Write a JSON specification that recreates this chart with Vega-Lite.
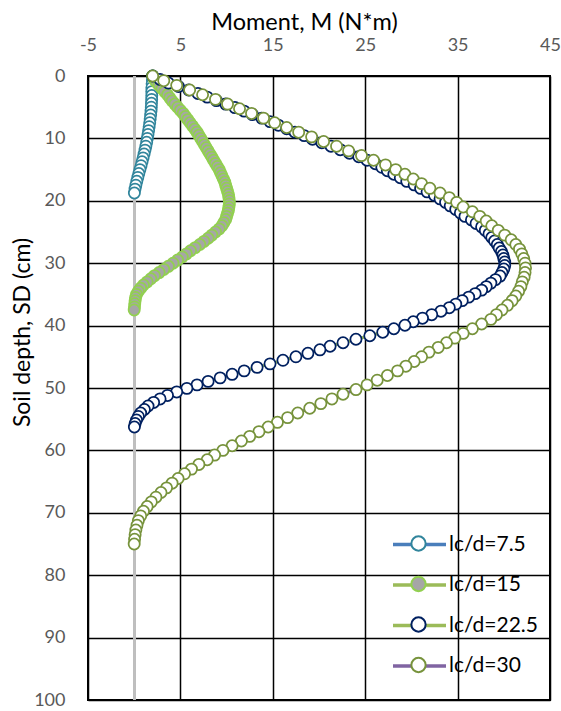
{
"$schema": "https://vega.github.io/schema/vega-lite/v6.json",
"width": 462, "height": 624,
"autosize": {"type": "none"},
"padding": {"left": 88, "top": 76, "right": 11, "bottom": 11},
"background": "white",
"config": {"view": {"stroke": "#000", "strokeWidth": 2}, "font": "Lato"},
"data": {"values": [
{"series":"lc/d=7.5","depth":0,"moment":2.0},{"series":"lc/d=7.5","depth":0.625,"moment":1.97},{"series":"lc/d=7.5","depth":1.25,"moment":1.94},{"series":"lc/d=7.5","depth":1.875,"moment":1.91},{"series":"lc/d=7.5","depth":2.5,"moment":1.9},{"series":"lc/d=7.5","depth":3.125,"moment":1.9},{"series":"lc/d=7.5","depth":3.75,"moment":1.89},{"series":"lc/d=7.5","depth":4.375,"moment":1.87},{"series":"lc/d=7.5","depth":5,"moment":1.85},{"series":"lc/d=7.5","depth":5.625,"moment":1.82},{"series":"lc/d=7.5","depth":6.25,"moment":1.78},{"series":"lc/d=7.5","depth":6.875,"moment":1.73},{"series":"lc/d=7.5","depth":7.5,"moment":1.68},{"series":"lc/d=7.5","depth":8.125,"moment":1.62},{"series":"lc/d=7.5","depth":8.75,"moment":1.56},{"series":"lc/d=7.5","depth":9.375,"moment":1.49},{"series":"lc/d=7.5","depth":10,"moment":1.42},{"series":"lc/d=7.5","depth":10.625,"moment":1.35},{"series":"lc/d=7.5","depth":11.25,"moment":1.26},{"series":"lc/d=7.5","depth":11.875,"moment":1.17},{"series":"lc/d=7.5","depth":12.5,"moment":1.07},{"series":"lc/d=7.5","depth":13.125,"moment":0.96},{"series":"lc/d=7.5","depth":13.75,"moment":0.85},{"series":"lc/d=7.5","depth":14.375,"moment":0.74},{"series":"lc/d=7.5","depth":15,"moment":0.62},{"series":"lc/d=7.5","depth":15.625,"moment":0.5},{"series":"lc/d=7.5","depth":16.25,"moment":0.39},{"series":"lc/d=7.5","depth":16.875,"moment":0.28},{"series":"lc/d=7.5","depth":17.5,"moment":0.18},{"series":"lc/d=7.5","depth":18.125,"moment":0.09},{"series":"lc/d=7.5","depth":18.75,"moment":0.02},
{"series":"lc/d=15","depth":0,"moment":2.0},{"series":"lc/d=15","depth":0.5,"moment":2.15},{"series":"lc/d=15","depth":1,"moment":2.4},{"series":"lc/d=15","depth":1.5,"moment":2.7},{"series":"lc/d=15","depth":2,"moment":3.0},{"series":"lc/d=15","depth":2.5,"moment":3.3},{"series":"lc/d=15","depth":3,"moment":3.6},{"series":"lc/d=15","depth":3.5,"moment":3.85},{"series":"lc/d=15","depth":4,"moment":4.1},{"series":"lc/d=15","depth":4.5,"moment":4.4},{"series":"lc/d=15","depth":5,"moment":4.7},{"series":"lc/d=15","depth":5.5,"moment":5.0},{"series":"lc/d=15","depth":6,"moment":5.3},{"series":"lc/d=15","depth":6.5,"moment":5.55},{"series":"lc/d=15","depth":7,"moment":5.8},{"series":"lc/d=15","depth":7.5,"moment":6.05},{"series":"lc/d=15","depth":8,"moment":6.3},{"series":"lc/d=15","depth":8.5,"moment":6.55},{"series":"lc/d=15","depth":9,"moment":6.8},{"series":"lc/d=15","depth":9.5,"moment":7.0},{"series":"lc/d=15","depth":10,"moment":7.2},{"series":"lc/d=15","depth":10.5,"moment":7.4},{"series":"lc/d=15","depth":11,"moment":7.6},{"series":"lc/d=15","depth":11.5,"moment":7.8},{"series":"lc/d=15","depth":12,"moment":8.0},{"series":"lc/d=15","depth":12.5,"moment":8.2},{"series":"lc/d=15","depth":13,"moment":8.4},{"series":"lc/d=15","depth":13.5,"moment":8.6},{"series":"lc/d=15","depth":14,"moment":8.8},{"series":"lc/d=15","depth":14.5,"moment":9.0},{"series":"lc/d=15","depth":15,"moment":9.2},{"series":"lc/d=15","depth":15.5,"moment":9.35},{"series":"lc/d=15","depth":16,"moment":9.5},{"series":"lc/d=15","depth":16.5,"moment":9.65},{"series":"lc/d=15","depth":17,"moment":9.8},{"series":"lc/d=15","depth":17.5,"moment":9.9},{"series":"lc/d=15","depth":18,"moment":10.0},{"series":"lc/d=15","depth":18.5,"moment":10.1},{"series":"lc/d=15","depth":19,"moment":10.2},{"series":"lc/d=15","depth":19.5,"moment":10.25},{"series":"lc/d=15","depth":20,"moment":10.3},{"series":"lc/d=15","depth":20.5,"moment":10.3},{"series":"lc/d=15","depth":21,"moment":10.25},{"series":"lc/d=15","depth":21.5,"moment":10.2},{"series":"lc/d=15","depth":22,"moment":10.1},{"series":"lc/d=15","depth":22.5,"moment":10.0},{"series":"lc/d=15","depth":23,"moment":9.9},{"series":"lc/d=15","depth":23.5,"moment":9.7},{"series":"lc/d=15","depth":24,"moment":9.5},{"series":"lc/d=15","depth":24.5,"moment":9.2},{"series":"lc/d=15","depth":25,"moment":8.8},{"series":"lc/d=15","depth":25.5,"moment":8.4},{"series":"lc/d=15","depth":26,"moment":8.0},{"series":"lc/d=15","depth":26.5,"moment":7.55},{"series":"lc/d=15","depth":27,"moment":7.1},{"series":"lc/d=15","depth":27.5,"moment":6.6},{"series":"lc/d=15","depth":28,"moment":6.1},{"series":"lc/d=15","depth":28.5,"moment":5.65},{"series":"lc/d=15","depth":29,"moment":5.2},{"series":"lc/d=15","depth":29.5,"moment":4.7},{"series":"lc/d=15","depth":30,"moment":4.2},{"series":"lc/d=15","depth":30.5,"moment":3.7},{"series":"lc/d=15","depth":31,"moment":3.2},{"series":"lc/d=15","depth":31.5,"moment":2.7},{"series":"lc/d=15","depth":32,"moment":2.2},{"series":"lc/d=15","depth":32.5,"moment":1.8},{"series":"lc/d=15","depth":33,"moment":1.4},{"series":"lc/d=15","depth":33.5,"moment":1.0},{"series":"lc/d=15","depth":34,"moment":0.7},{"series":"lc/d=15","depth":34.5,"moment":0.45},{"series":"lc/d=15","depth":35,"moment":0.25},{"series":"lc/d=15","depth":35.5,"moment":0.15},{"series":"lc/d=15","depth":36,"moment":0.1},{"series":"lc/d=15","depth":36.5,"moment":0.06},{"series":"lc/d=15","depth":37,"moment":0.03},{"series":"lc/d=15","depth":37.5,"moment":0.0},
{"series":"lc/d=22.5","depth":0,"moment":2.0},{"series":"lc/d=22.5","depth":0.56,"moment":2.8},{"series":"lc/d=22.5","depth":1.13,"moment":3.7},{"series":"lc/d=22.5","depth":1.69,"moment":4.8},{"series":"lc/d=22.5","depth":2.25,"moment":5.9},{"series":"lc/d=22.5","depth":2.81,"moment":6.9},{"series":"lc/d=22.5","depth":3.38,"moment":7.9},{"series":"lc/d=22.5","depth":3.94,"moment":8.9},{"series":"lc/d=22.5","depth":4.5,"moment":9.9},{"series":"lc/d=22.5","depth":5.06,"moment":10.9},{"series":"lc/d=22.5","depth":5.63,"moment":11.9},{"series":"lc/d=22.5","depth":6.19,"moment":12.8},{"series":"lc/d=22.5","depth":6.75,"moment":13.8},{"series":"lc/d=22.5","depth":7.31,"moment":14.7},{"series":"lc/d=22.5","depth":7.88,"moment":15.6},{"series":"lc/d=22.5","depth":8.44,"moment":16.5},{"series":"lc/d=22.5","depth":9,"moment":17.4},{"series":"lc/d=22.5","depth":9.56,"moment":18.4},{"series":"lc/d=22.5","depth":10.13,"moment":19.3},{"series":"lc/d=22.5","depth":10.69,"moment":20.3},{"series":"lc/d=22.5","depth":11.25,"moment":21.3},{"series":"lc/d=22.5","depth":11.81,"moment":22.3},{"series":"lc/d=22.5","depth":12.38,"moment":23.3},{"series":"lc/d=22.5","depth":12.94,"moment":24.3},{"series":"lc/d=22.5","depth":13.5,"moment":25.2},{"series":"lc/d=22.5","depth":14.06,"moment":26.1},{"series":"lc/d=22.5","depth":14.63,"moment":26.8},{"series":"lc/d=22.5","depth":15.19,"moment":27.4},{"series":"lc/d=22.5","depth":15.75,"moment":28.1},{"series":"lc/d=22.5","depth":16.31,"moment":28.8},{"series":"lc/d=22.5","depth":16.88,"moment":29.5},{"series":"lc/d=22.5","depth":17.44,"moment":30.3},{"series":"lc/d=22.5","depth":18,"moment":31.0},{"series":"lc/d=22.5","depth":18.56,"moment":31.7},{"series":"lc/d=22.5","depth":19.13,"moment":32.5},{"series":"lc/d=22.5","depth":19.69,"moment":33.1},{"series":"lc/d=22.5","depth":20.25,"moment":33.7},{"series":"lc/d=22.5","depth":20.81,"moment":34.2},{"series":"lc/d=22.5","depth":21.38,"moment":34.8},{"series":"lc/d=22.5","depth":21.94,"moment":35.3},{"series":"lc/d=22.5","depth":22.5,"moment":35.8},{"series":"lc/d=22.5","depth":23.06,"moment":36.5},{"series":"lc/d=22.5","depth":23.63,"moment":37.0},{"series":"lc/d=22.5","depth":24.19,"moment":37.6},{"series":"lc/d=22.5","depth":24.75,"moment":38.0},{"series":"lc/d=22.5","depth":25.31,"moment":38.4},{"series":"lc/d=22.5","depth":25.88,"moment":38.7},{"series":"lc/d=22.5","depth":26.44,"moment":39.0},{"series":"lc/d=22.5","depth":27,"moment":39.3},{"series":"lc/d=22.5","depth":27.56,"moment":39.5},{"series":"lc/d=22.5","depth":28.13,"moment":39.75},{"series":"lc/d=22.5","depth":28.69,"moment":39.9},{"series":"lc/d=22.5","depth":29.25,"moment":40.0},{"series":"lc/d=22.5","depth":29.81,"moment":40.1},{"series":"lc/d=22.5","depth":30.38,"moment":40.1},{"series":"lc/d=22.5","depth":30.94,"moment":40.0},{"series":"lc/d=22.5","depth":31.5,"moment":39.8},{"series":"lc/d=22.5","depth":32.06,"moment":39.6},{"series":"lc/d=22.5","depth":32.63,"moment":39.1},{"series":"lc/d=22.5","depth":33.19,"moment":38.6},{"series":"lc/d=22.5","depth":33.75,"moment":38.1},{"series":"lc/d=22.5","depth":34.31,"moment":37.6},{"series":"lc/d=22.5","depth":34.88,"moment":36.9},{"series":"lc/d=22.5","depth":35.44,"moment":36.2},{"series":"lc/d=22.5","depth":36,"moment":35.5},{"series":"lc/d=22.5","depth":36.56,"moment":34.8},{"series":"lc/d=22.5","depth":37.13,"moment":34.1},{"series":"lc/d=22.5","depth":37.69,"moment":33.2},{"series":"lc/d=22.5","depth":38.25,"moment":32.2},{"series":"lc/d=22.5","depth":38.81,"moment":31.2},{"series":"lc/d=22.5","depth":39.38,"moment":30.2},{"series":"lc/d=22.5","depth":39.94,"moment":29.3},{"series":"lc/d=22.5","depth":40.5,"moment":28.1},{"series":"lc/d=22.5","depth":41.06,"moment":26.9},{"series":"lc/d=22.5","depth":41.63,"moment":25.5},{"series":"lc/d=22.5","depth":42.19,"moment":24.0},{"series":"lc/d=22.5","depth":42.75,"moment":22.6},{"series":"lc/d=22.5","depth":43.31,"moment":21.2},{"series":"lc/d=22.5","depth":43.88,"moment":20.1},{"series":"lc/d=22.5","depth":44.44,"moment":18.8},{"series":"lc/d=22.5","depth":45,"moment":17.5},{"series":"lc/d=22.5","depth":45.56,"moment":16.1},{"series":"lc/d=22.5","depth":46.13,"moment":14.7},{"series":"lc/d=22.5","depth":46.69,"moment":13.3},{"series":"lc/d=22.5","depth":47.25,"moment":11.9},{"series":"lc/d=22.5","depth":47.81,"moment":10.6},{"series":"lc/d=22.5","depth":48.38,"moment":9.3},{"series":"lc/d=22.5","depth":48.94,"moment":8.0},{"series":"lc/d=22.5","depth":49.5,"moment":6.8},{"series":"lc/d=22.5","depth":50.06,"moment":5.7},{"series":"lc/d=22.5","depth":50.63,"moment":4.6},{"series":"lc/d=22.5","depth":51.19,"moment":3.6},{"series":"lc/d=22.5","depth":51.75,"moment":2.8},{"series":"lc/d=22.5","depth":52.31,"moment":2.1},{"series":"lc/d=22.5","depth":52.88,"moment":1.5},{"series":"lc/d=22.5","depth":53.44,"moment":1.1},{"series":"lc/d=22.5","depth":54,"moment":0.7},{"series":"lc/d=22.5","depth":54.56,"moment":0.45},{"series":"lc/d=22.5","depth":55.13,"moment":0.25},{"series":"lc/d=22.5","depth":55.69,"moment":0.1},{"series":"lc/d=22.5","depth":56.25,"moment":0.02},
{"series":"lc/d=30","depth":0,"moment":2.0},{"series":"lc/d=30","depth":0.75,"moment":3.2},{"series":"lc/d=30","depth":1.5,"moment":4.6},{"series":"lc/d=30","depth":2.25,"moment":6.0},{"series":"lc/d=30","depth":3,"moment":7.4},{"series":"lc/d=30","depth":3.75,"moment":8.8},{"series":"lc/d=30","depth":4.5,"moment":10.1},{"series":"lc/d=30","depth":5.25,"moment":11.4},{"series":"lc/d=30","depth":6,"moment":12.7},{"series":"lc/d=30","depth":6.75,"moment":14.0},{"series":"lc/d=30","depth":7.5,"moment":15.2},{"series":"lc/d=30","depth":8.25,"moment":16.5},{"series":"lc/d=30","depth":9,"moment":17.8},{"series":"lc/d=30","depth":9.75,"moment":19.2},{"series":"lc/d=30","depth":10.5,"moment":20.5},{"series":"lc/d=30","depth":11.25,"moment":21.9},{"series":"lc/d=30","depth":12,"moment":23.2},{"series":"lc/d=30","depth":12.75,"moment":24.6},{"series":"lc/d=30","depth":13.5,"moment":25.9},{"series":"lc/d=30","depth":14.25,"moment":27.2},{"series":"lc/d=30","depth":15,"moment":28.3},{"series":"lc/d=30","depth":15.75,"moment":29.3},{"series":"lc/d=30","depth":16.5,"moment":30.2},{"series":"lc/d=30","depth":17.25,"moment":31.1},{"series":"lc/d=30","depth":18,"moment":32.0},{"series":"lc/d=30","depth":18.75,"moment":33.1},{"series":"lc/d=30","depth":19.5,"moment":34.1},{"series":"lc/d=30","depth":20.25,"moment":34.9},{"series":"lc/d=30","depth":21,"moment":35.6},{"series":"lc/d=30","depth":21.75,"moment":36.6},{"series":"lc/d=30","depth":22.5,"moment":37.4},{"series":"lc/d=30","depth":23.25,"moment":38.1},{"series":"lc/d=30","depth":24,"moment":38.7},{"series":"lc/d=30","depth":24.75,"moment":39.4},{"series":"lc/d=30","depth":25.5,"moment":40.1},{"series":"lc/d=30","depth":26.25,"moment":40.8},{"series":"lc/d=30","depth":27,"moment":41.3},{"series":"lc/d=30","depth":27.75,"moment":41.7},{"series":"lc/d=30","depth":28.5,"moment":41.95},{"series":"lc/d=30","depth":29.25,"moment":42.15},{"series":"lc/d=30","depth":30,"moment":42.3},{"series":"lc/d=30","depth":30.75,"moment":42.35},{"series":"lc/d=30","depth":31.5,"moment":42.3},{"series":"lc/d=30","depth":32.25,"moment":42.2},{"series":"lc/d=30","depth":33,"moment":42.0},{"series":"lc/d=30","depth":33.75,"moment":41.85},{"series":"lc/d=30","depth":34.5,"moment":41.6},{"series":"lc/d=30","depth":35.25,"moment":41.3},{"series":"lc/d=30","depth":36,"moment":40.9},{"series":"lc/d=30","depth":36.75,"moment":40.4},{"series":"lc/d=30","depth":37.5,"moment":39.8},{"series":"lc/d=30","depth":38.25,"moment":39.2},{"series":"lc/d=30","depth":39,"moment":38.6},{"series":"lc/d=30","depth":39.75,"moment":37.6},{"series":"lc/d=30","depth":40.5,"moment":36.6},{"series":"lc/d=30","depth":41.25,"moment":35.6},{"series":"lc/d=30","depth":42,"moment":34.7},{"series":"lc/d=30","depth":42.75,"moment":33.8},{"series":"lc/d=30","depth":43.5,"moment":32.9},{"series":"lc/d=30","depth":44.25,"moment":31.9},{"series":"lc/d=30","depth":45,"moment":31.1},{"series":"lc/d=30","depth":45.75,"moment":30.3},{"series":"lc/d=30","depth":46.5,"moment":29.4},{"series":"lc/d=30","depth":47.25,"moment":28.5},{"series":"lc/d=30","depth":48,"moment":27.4},{"series":"lc/d=30","depth":48.75,"moment":26.3},{"series":"lc/d=30","depth":49.5,"moment":25.2},{"series":"lc/d=30","depth":50.25,"moment":24.0},{"series":"lc/d=30","depth":51,"moment":22.6},{"series":"lc/d=30","depth":51.75,"moment":21.4},{"series":"lc/d=30","depth":52.5,"moment":20.2},{"series":"lc/d=30","depth":53.25,"moment":19.0},{"series":"lc/d=30","depth":54,"moment":17.7},{"series":"lc/d=30","depth":54.75,"moment":16.6},{"series":"lc/d=30","depth":55.5,"moment":15.5},{"series":"lc/d=30","depth":56.25,"moment":14.5},{"series":"lc/d=30","depth":57,"moment":13.5},{"series":"lc/d=30","depth":57.75,"moment":12.5},{"series":"lc/d=30","depth":58.5,"moment":11.6},{"series":"lc/d=30","depth":59.25,"moment":10.6},{"series":"lc/d=30","depth":60,"moment":9.6},{"series":"lc/d=30","depth":60.75,"moment":8.7},{"series":"lc/d=30","depth":61.5,"moment":7.9},{"series":"lc/d=30","depth":62.25,"moment":7.0},{"series":"lc/d=30","depth":63,"moment":6.2},{"series":"lc/d=30","depth":63.75,"moment":5.45},{"series":"lc/d=30","depth":64.5,"moment":4.75},{"series":"lc/d=30","depth":65.25,"moment":4.1},{"series":"lc/d=30","depth":66,"moment":3.5},{"series":"lc/d=30","depth":66.75,"moment":2.9},{"series":"lc/d=30","depth":67.5,"moment":2.35},{"series":"lc/d=30","depth":68.25,"moment":1.85},{"series":"lc/d=30","depth":69,"moment":1.4},{"series":"lc/d=30","depth":69.75,"moment":1.0},{"series":"lc/d=30","depth":70.5,"moment":0.7},{"series":"lc/d=30","depth":71.25,"moment":0.45},{"series":"lc/d=30","depth":72,"moment":0.3},{"series":"lc/d=30","depth":72.75,"moment":0.18},{"series":"lc/d=30","depth":73.5,"moment":0.1},{"series":"lc/d=30","depth":74.25,"moment":0.04},{"series":"lc/d=30","depth":75,"moment":0.0}
]},
"layer": [
{"mark": {"type": "rule", "color": "#bfbfbf", "strokeWidth": 2},
 "encoding": {"x": {"datum": 0, "type": "quantitative"}}},
{"mark": {"type": "line", "strokeWidth": 3},
 "encoding": {
  "x": {"field": "moment", "type": "quantitative",
        "scale": {"domain": [-5, 45], "nice": false, "zero": false},
        "axis": {"orient": "top", "values": [-5, 5, 15, 25, 35, 45], "title": "Moment, M (N*m)", "labelExpr": "'' + datum.value",
                 "titleFontSize": 23.5, "titleFontWeight": "normal", "titleColor": "#000", "titleFont": "Lato",
                 "titleX": 216, "titleY": -47, "titleBaseline": "alphabetic", "titleAlign": "center", "titleAnchor": null,
                 "labelFontSize": 18, "labelColor": "#595959", "labelFont": "Lato", "labelPadding": 22, "labelFlush": false, "labelOverlap": false,
                 "ticks": false, "domain": false, "grid": true, "gridColor": "#000", "gridWidth": 1.5, "gridOpacity": 1}},
  "y": {"field": "depth", "type": "quantitative",
        "scale": {"domain": [0, 100], "reverse": true, "nice": false, "zero": false},
        "axis": {"values": [0, 10, 20, 30, 40, 50, 60, 70, 80, 90, 100], "title": "Soil depth, SD (cm)", "labelExpr": "'' + datum.value",
                 "titleFontSize": 23, "titleFontWeight": "normal", "titleColor": "#000", "titleFont": "Lato",
                 "titleX": -59, "titleY": 256, "titleBaseline": "alphabetic", "titleAlign": "center", "titleAngle": -90, "titleAnchor": null,
                 "labelFontSize": 18, "labelColor": "#595959", "labelFont": "Lato", "labelPadding": 23, "labelFlush": false, "labelOverlap": false,
                 "ticks": false, "domain": false, "grid": true, "gridColor": "#000", "gridWidth": 1.5, "gridOpacity": 1}},
  "order": {"field": "depth", "type": "quantitative"},
  "stroke": {"field": "series", "type": "nominal",
             "scale": {"domain": ["lc/d=7.5", "lc/d=15", "lc/d=22.5", "lc/d=30"], "range": ["#4a7ebb", "#9bbb59", "#9bbb59", "#8064a2"]},
             "legend": {"orient": "none", "legendX": 303, "legendY": 440, "zindex": 1, "title": null, "symbolType": "stroke", "symbolSize": 2809,
                        "symbolStrokeWidth": 3.5, "labelFont": "Lato", "labelFontSize": 21, "labelColor": "#000", "labelOffset": 1, "rowPadding": 1.5}}
 }},
{"mark": {"type": "point", "shape": "circle", "size": 125, "strokeWidth": 1.75, "opacity": 1},
 "encoding": {
  "x": {"field": "moment", "type": "quantitative"},
  "y": {"field": "depth", "type": "quantitative"},
  "stroke": {"field": "series", "type": "nominal",
             "scale": {"domain": ["lc/d=7.5", "lc/d=15", "lc/d=22.5", "lc/d=30"], "range": ["#31859c", "#92d050", "#002060", "#77933c"]},
             "legend": {"orient": "none", "legendX": 303, "legendY": 440, "zindex": 2, "title": null,
                        "symbolType": "M 0.27,0 C 0.27,0.149 0.149,0.27 0,0.27 C -0.149,0.27 -0.27,0.149 -0.27,0 C -0.27,-0.149 -0.149,-0.27 0,-0.27 C 0.149,-0.27 0.27,-0.149 0.27,0 Z",
                        "symbolSize": 2809, "symbolFillColor": "#ffffff", "symbolOpacity": 1,
                        "symbolStrokeWidth": 2, "labelFont": "Lato", "labelFontSize": 21, "labelOpacity": 0, "labelOffset": 1, "rowPadding": 1.5,
                        "encode": {"symbols": {"update": {"fill": {"signal": "datum.value === 'lc/d=15' ? '#a6a6a6' : '#ffffff'"}}}}}},
  "fill": {"field": "series", "type": "nominal",
           "scale": {"domain": ["lc/d=7.5", "lc/d=15", "lc/d=22.5", "lc/d=30"], "range": ["#ffffff", "#a6a6a6", "#ffffff", "#ffffff"]},
           "legend": null}
 }}
],
"resolve": {"scale": {"stroke": "independent"}, "legend": {"stroke": "independent"}}
}
